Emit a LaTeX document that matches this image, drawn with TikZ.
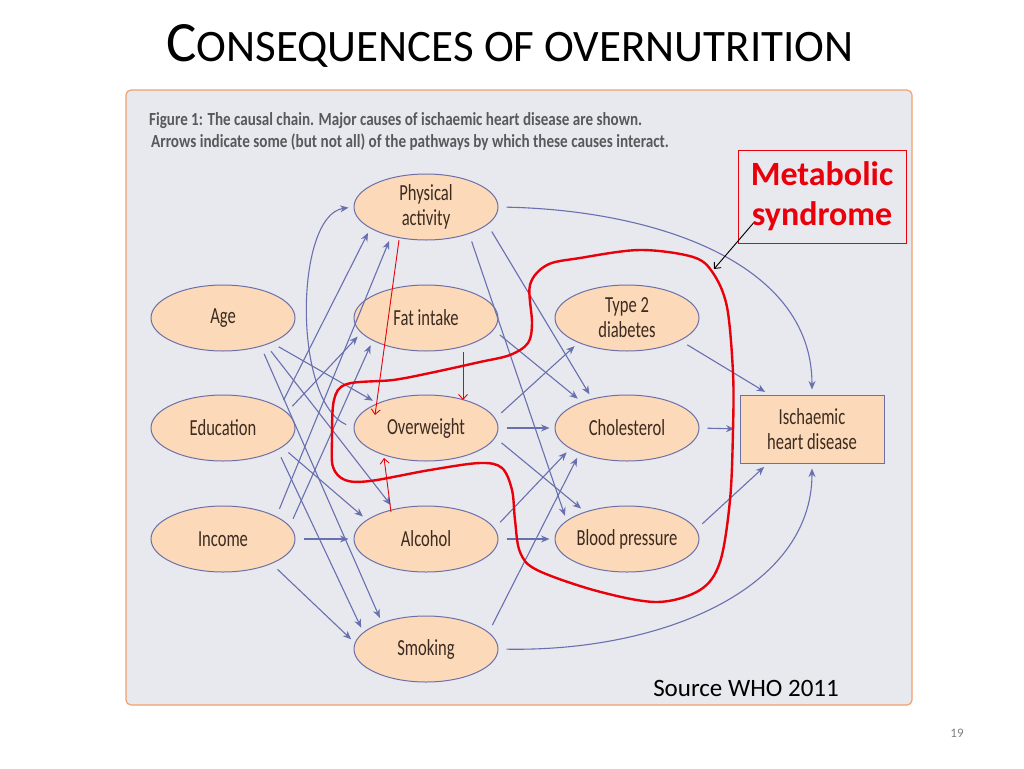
\documentclass[tikz,border=0pt]{standalone}
\usepackage{fontspec}
\usepackage{graphicx}
\setmainfont{Carlito}
\usetikzlibrary{arrows.meta,shapes.geometric,calc}
\definecolor{panel}{HTML}{E8E9EE}
\definecolor{panelborder}{HTML}{F2A06E}
\definecolor{nodefill}{HTML}{FCD9B8}
\definecolor{nodeborder}{HTML}{6D70A8}
\definecolor{arrowc}{HTML}{6870B0}
\definecolor{nodetext}{HTML}{3C2B20}
\definecolor{capgray}{HTML}{58595B}
\definecolor{msred}{HTML}{E8000B}
\newcommand{\cnd}[1]{\scalebox{0.72}[1]{#1}}
\begin{document}
\begin{tikzpicture}[x=1pt,y=-1pt,
  ell/.style={ellipse, draw=nodeborder, fill=nodefill, line width=1pt, minimum width=144pt, minimum height=66pt, inner sep=0pt, text=nodetext, font=\fontsize{23}{25}\selectfont, align=center},
  bl/.style={draw=arrowc, line width=1.1pt, -{Stealth[length=8.5pt,width=7pt]}, shorten >=5pt, shorten <=8pt},
  redarr/.style={draw=msred, line width=0.9pt, -{Straight Barb[length=5pt,width=9pt]}}]
\useasboundingbox (0,0) rectangle (1024,768);
\fill[white] (0,0) rectangle (1024,768);
% title
\node[anchor=base, inner sep=0pt] (title) at (510,62) {{\fontsize{57}{60}\selectfont C}{\fontsize{45}{50}\selectfont ONSEQUENCES OF OVERNUTRITION}};
% panel
\draw[panelborder, fill=panel, rounded corners=5pt, line width=1.2pt] (126,90) rectangle (912,705);
\node[anchor=base west, inner sep=0pt, text=capgray, font=\bfseries\fontsize{18.5}{20}\selectfont] (cap1) at (149,125) {\scalebox{0.815}[1]{Figure 1: The causal chain. Major causes of ischaemic heart disease are shown.}};
\node[anchor=base west, inner sep=0pt, text=capgray, font=\bfseries\fontsize{18.5}{20}\selectfont] (cap2) at (151,147) {\scalebox{0.82}[1]{Arrows indicate some (but not all) of the pathways by which these causes interact.}};
% nodes
\node[ell] (age) at (223,318) {\cnd{Age}};
\node[ell] (edu) at (223,428) {\cnd{Education}};
\node[ell] (inc) at (223,539) {\cnd{Income}};
\node[ell] (pa) at (426,207) {\cnd{Physical}\\\cnd{activity}};
\node[ell] (fat) at (426,318) {\cnd{Fat intake}};
\node[ell] (ow) at (426,428) {\cnd{Overweight}};
\node[ell] (alc) at (426,539) {\cnd{Alcohol}};
\node[ell] (smk) at (426,649) {\cnd{Smoking}};
\node[ell] (t2d) at (627,318) {\cnd{Type 2}\\\cnd{diabetes}};
\node[ell] (chol) at (627,428) {\cnd{Cholesterol}};
\node[ell] (bp) at (627,539) {\cnd{Blood pressure}};
\node[rectangle, draw=nodeborder, fill=nodefill, line width=1pt, minimum width=144pt, minimum height=68pt, inner sep=0pt, text=nodetext, font=\fontsize{23}{25}\selectfont, align=center] (ihd) at (812,429) {\cnd{Ischaemic}\\\cnd{heart disease}};
% left -> middle
\draw[bl] (age.-27) -- (ow.153);
\draw[bl] (age.-32) -- (alc.137);
\draw[bl] (age.-37) -- (smk.149);
\draw[bl] (edu.-22) -- (smk.165);
\draw[bl] (edu.-18) -- (alc.162);
\draw[bl] (edu.20) -- (pa.-159);
\draw[bl] (edu.14) -- (fat.-167);
\draw[bl] (inc.23) -- (pa.-140);
\draw[bl] (inc.11) -- (fat.-157);
\draw[bl] (inc.0) -- (alc.180);
\draw[bl] (inc.-27) -- (smk.175);
\draw[bl] (ow.180) .. controls (292,400) and (295,215) .. (pa.180);
% middle -> right
\draw[bl] (pa.0) .. controls (650,210) and (812,260) .. (ihd.north);
\draw[bl] (smk.0) .. controls (660,652) and (812,590) .. (ihd.south);
\draw[bl] (pa.-16) -- (chol.140);
\draw[bl] (pa.-32) -- (bp.163);
\draw[bl] (fat.-10) -- (chol.150);
\draw[bl] (ow.8) -- (t2d.-153);
\draw[bl] (ow.0) -- (chol.180);
\draw[bl] (ow.-8) -- (bp.147);
\draw[bl] (alc.9) -- (chol.-160);
\draw[bl] (alc.0) -- (bp.180);
\draw[bl] (smk.15) -- (chol.-152);
\draw[bl] (t2d.-23) -- (ihd.141);
\draw[bl] (chol.0) -- (ihd.180);
\draw[bl] (bp.8) -- (ihd.-142);
% red arrows
\draw[redarr] ($(pa.center)+(-27,33)$) -- ($(ow.center)+(-51,-13)$);
\draw[redarr] ($(fat.center)+(37,34)$) -- ($(ow.center)+(37,-28)$);
\draw[redarr] ($(alc.center)+(-35,-27)$) -- ($(ow.center)+(-42,30)$);
% metabolic syndrome boundary
\draw[msred, line width=2.4pt] plot[smooth cycle, tension=0.55] coordinates {
(393,380) (347,384) (334,400) (332,440) (333,467) (345,480) (370,481) (430,470) (480,463) (502,468) (512,490) (515,520) (520,552) (537,570) (597,591) (657,602) (700,590) (720,562) (730,500) (733,430) (733,373) (727,307) (713,273) (693,257) (640,250) (580,258) (547,265) (530,285) (532,323) (528,343) (510,355) (480,362) (430,373)};
% label box
\node[draw=msred, line width=0.8pt, rectangle, minimum width=168pt, minimum height=93pt, text=msred, font=\bfseries\fontsize{34}{40}\selectfont, align=center] (ms) at (822,196.5) {Metabolic\\syndrome};
\coordinate (mstip) at (714,269);
\draw[black, line width=0.9pt, -{Straight Barb[length=5pt,width=9pt]}] ($(ms.center)+(-69,27)$) -- (mstip);
% source & page
\node[font=\fontsize{25}{30}\selectfont, inner sep=0pt] (src) at (746,688) {Source WHO 2011};
\node[text=gray, font=\fontsize{13}{15}\selectfont, inner sep=0pt] (pg) at (957,733) {19};
\end{tikzpicture}
\end{document}
